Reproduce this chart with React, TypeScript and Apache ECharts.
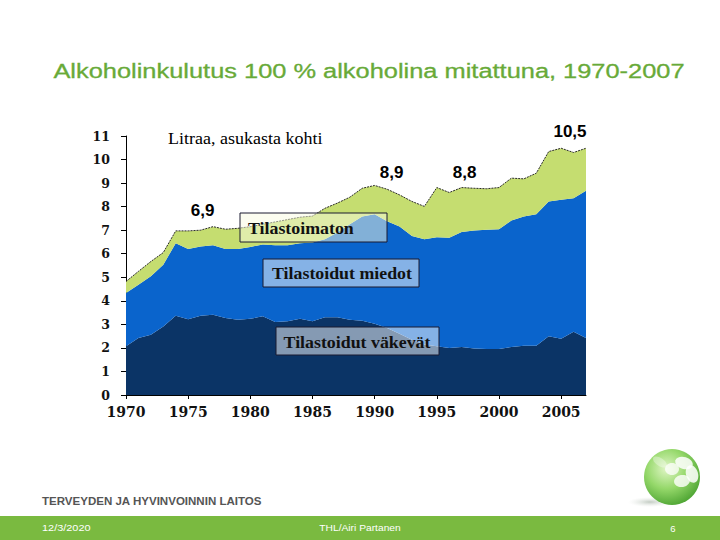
import React, { useEffect, useRef } from "react";
import * as echarts from "echarts";

const years = [
  "1970", "1971", "1972", "1973", "1974", "1975", "1976", "1977", "1978", "1979",
  "1980", "1981", "1982", "1983", "1984", "1985", "1986", "1987", "1988", "1989",
  "1990", "1991", "1992", "1993", "1994", "1995", "1996", "1997", "1998", "1999",
  "2000", "2001", "2002", "2003", "2004", "2005", "2006", "2007",
];

// Tilastoidut väkevät (recorded spirits)
const spirits = [
  2.07, 2.42, 2.56, 2.91, 3.37, 3.22, 3.37, 3.41, 3.27, 3.2,
  3.24, 3.34, 3.1, 3.13, 3.24, 3.13, 3.3, 3.3, 3.2, 3.15,
  3.03, 2.85, 2.6, 2.35, 2.15, 2.07, 2.0, 2.04, 1.98, 1.95,
  1.95, 2.04, 2.09, 2.09, 2.49, 2.39, 2.69, 2.42,
];

// Tilastoidut miedot (recorded mild beverages)
const mild = [
  2.26, 2.26, 2.48, 2.62, 3.08, 2.98, 2.94, 2.95, 2.93, 3.0,
  3.05, 3.05, 3.26, 3.23, 3.21, 3.35, 3.32, 3.6, 4.05, 4.43,
  4.65, 4.53, 4.56, 4.4, 4.47, 4.63, 4.68, 4.88, 5.01, 5.07,
  5.09, 5.37, 5.49, 5.59, 5.73, 5.9, 5.67, 6.25,
];

// Tilastoimaton (unrecorded)
const unrecorded = [
  0.49, 0.57, 0.63, 0.52, 0.52, 0.77, 0.69, 0.79, 0.84, 0.88,
  0.86, 0.86, 0.99, 1.09, 1.1, 1.12, 1.31, 1.25, 1.15, 1.2,
  1.22, 1.36, 1.34, 1.47, 1.39, 2.11, 1.92, 1.89, 1.79, 1.74,
  1.77, 1.8, 1.6, 1.74, 2.12, 2.19, 1.94, 1.81,
];

const annotations = [
  { year: "1976", text: "6,9" },
  { year: "1990", text: "8,9" },
  { year: "1997", text: "8,8" },
  { year: "2007", text: "10,5" },
];

const annotationOffsets: Record<string, number[]> = {
  "1976": [2, -6],
  "1990": [17, 1],
  "1997": [3, -1],
  "2007": [-16, -3],
};

const seriesNames = ["Tilastoidut väkevät", "Tilastoidut miedot", "Tilastoimaton"];
const title = "Alkoholinkulutus 100 % alkoholina mitattuna, 1970-2007";
const unitLabel = "Litraa, asukasta kohti";
const orgName = "TERVEYDEN JA HYVINVOINNIN LAITOS";
const footerDate = "12/3/2020";
const footerAuthor = "THL/Airi Partanen";
const footerPage = "6";

export default function App() {
  const ref = useRef<HTMLDivElement>(null);

  useEffect(() => {
    if (!ref.current) return;
    const chart = echarts.init(ref.current, undefined, { renderer: "svg" });

    const annotationPoints = annotations.map((a) => {
      const i = years.indexOf(a.year);
      const total = spirits[i] + mild[i] + unrecorded[i];
      return {
        value: [a.year, total],
        label: {
          show: true,
          position: "top",
          distance: 5,
          formatter: a.text,
          offset: annotationOffsets[a.year],
          color: "#000",
          opacity: 1,
          fontFamily: "Liberation Sans",
          fontWeight: "bold",
          fontSize: 17,
        },
      };
    });

    const boxStyle = {
      stroke: "#1a1a30",
      lineWidth: 1,
    };
    const boxFont = 'bold 17px "Liberation Serif"';

    chart.setOption({
      animation: false,
      backgroundColor: "#ffffff",
      grid: { left: 126, top: 136, width: 460, height: 259 },
      xAxis: {
        type: "category",
        data: years,
        boundaryGap: false,
        axisLine: { show: true, lineStyle: { color: "#000", width: 1 } },
        axisTick: { show: true, interval: 4, length: 4, lineStyle: { color: "#000" } },
        axisLabel: {
          interval: 4,
          color: "#111",
          fontFamily: "DejaVu Serif",
          fontWeight: "bold",
          fontSize: 14,
          margin: 10,
        },
        splitLine: { show: false },
      },
      yAxis: {
        type: "value",
        min: 0,
        max: 11,
        interval: 1,
        axisLine: { show: true, lineStyle: { color: "#000", width: 1 } },
        axisTick: { show: true, length: 5, lineStyle: { color: "#000" } },
        axisLabel: {
          color: "#111",
          fontFamily: "DejaVu Serif",
          fontWeight: "bold",
          fontSize: 12.5,
          margin: 16,
        },
        splitLine: { show: false },
      },
      series: [
        {
          name: seriesNames[0],
          type: "line",
          stack: "total",
          data: spirits,
          symbol: "none",
          lineStyle: { width: 0 },
          areaStyle: { color: "#0b3466", opacity: 1 },
          z: 2,
        },
        {
          name: seriesNames[1],
          type: "line",
          stack: "total",
          data: mild,
          symbol: "none",
          lineStyle: { width: 0 },
          areaStyle: { color: "#0a64cc", opacity: 1 },
          z: 2,
        },
        {
          name: seriesNames[2],
          type: "line",
          stack: "total",
          data: unrecorded,
          symbol: "none",
          lineStyle: { width: 1, color: "#2a2a2a", type: [2, 1] },
          areaStyle: { color: "#c5dd70", opacity: 1 },
          z: 3,
        },
        {
          name: "annotations",
          type: "scatter",
          data: annotationPoints,
          symbolSize: 1,
          itemStyle: { color: "rgba(255,255,255,0)" },
          silent: true,
          z: 5,
        },
      ],
      graphic: [
        {
          type: "text",
          x: 369,
          y: 71,
          z: 100,
          scaleX: 1.27,
          style: {
            text: title,
            font: 'normal 20px "Liberation Sans"',
            fill: "#68aa38",
            stroke: "#68aa38",
            lineWidth: 0.3,
            textAlign: "center",
            textVerticalAlign: "middle",
          },
        },
        {
          type: "text",
          x: 168,
          y: 138,
          z: 100,
          scaleX: 1.06,
          style: {
            text: unitLabel,
            font: 'normal 17px "Liberation Serif"',
            fill: "#000",
            textAlign: "left",
            textVerticalAlign: "middle",
          },
        },
        {
          type: "rect",
          z: 100,
          shape: { x: 240, y: 213, width: 147, height: 29 },
          style: { ...boxStyle, fill: "rgba(250,252,225,0.5)" },
        },
        {
          type: "text",
          x: 248,
          y: 228,
          z: 101,
          scaleX: 1.05,
          style: {
            text: seriesNames[2],
            font: boxFont,
            fill: "#111",
            textAlign: "left",
            textVerticalAlign: "middle",
          },
        },
        {
          type: "rect",
          z: 100,
          shape: { x: 263, y: 259, width: 156, height: 28 },
          style: { ...boxStyle, fill: "rgba(255,255,255,0.5)" },
        },
        {
          type: "text",
          x: 342,
          y: 273,
          z: 101,
          scaleX: 1.05,
          style: {
            text: seriesNames[1],
            font: boxFont,
            fill: "#111",
            textAlign: "center",
            textVerticalAlign: "middle",
          },
        },
        {
          type: "rect",
          z: 100,
          shape: { x: 276, y: 327, width: 163, height: 28 },
          style: { ...boxStyle, fill: "rgba(255,255,255,0.5)" },
        },
        {
          type: "text",
          x: 357,
          y: 342,
          z: 101,
          scaleX: 1.05,
          style: {
            text: seriesNames[0],
            font: boxFont,
            fill: "#111",
            textAlign: "center",
            textVerticalAlign: "middle",
          },
        },
        {
          type: "text",
          x: 42,
          y: 501,
          z: 100,
          scaleX: 1.1,
          style: {
            text: orgName,
            font: 'bold 10.5px "Liberation Sans"',
            fill: "#555",
            textAlign: "left",
            textVerticalAlign: "middle",
          },
        },
        {
          type: "rect",
          z: 100,
          shape: { x: 0, y: 516, width: 720, height: 24 },
          style: { fill: "#7aba40" },
        },
        {
          type: "text",
          x: 42,
          y: 528,
          z: 101,
          scaleX: 1.15,
          style: {
            text: footerDate,
            font: 'normal 9.5px "Liberation Sans"',
            fill: "#fff",
            textAlign: "left",
            textVerticalAlign: "middle",
          },
        },
        {
          type: "text",
          x: 360,
          y: 528,
          z: 101,
          scaleX: 1.08,
          style: {
            text: footerAuthor,
            font: 'normal 9.5px "Liberation Sans"',
            fill: "#fff",
            textAlign: "center",
            textVerticalAlign: "middle",
          },
        },
        {
          type: "text",
          x: 673,
          y: 528,
          z: 101,
          style: {
            text: footerPage,
            font: 'normal 9.5px "Liberation Sans"',
            fill: "#fff",
            textAlign: "center",
            textVerticalAlign: "middle",
          },
        },
        {
          type: "ellipse",
          z: 100,
          shape: { cx: 650, cy: 502, rx: 22, ry: 5 },
          style: {
            fill: new echarts.graphic.RadialGradient(0.5, 0.5, 0.5, [
              { offset: 0, color: "rgba(120,140,120,0.45)" },
              { offset: 1, color: "rgba(200,210,200,0)" },
            ]),
          },
        },
        {
          type: "circle",
          z: 101,
          shape: { cx: 672, cy: 477, r: 28 },
          style: {
            fill: new echarts.graphic.RadialGradient(0.4, 0.35, 0.8, [
              { offset: 0, color: "#e0f6c6" },
              { offset: 0.45, color: "#95d86a" },
              { offset: 1, color: "#34921f" },
            ]),
          },
        },
        {
          type: "ellipse",
          z: 102,
          x: 684,
          y: 463,
          shape: { cx: 0, cy: 0, rx: 9, ry: 6 },
          rotation: -0.3,
          style: { fill: "rgba(255,255,255,0.85)" },
        },
        {
          type: "ellipse",
          z: 102,
          x: 692,
          y: 474,
          shape: { cx: 0, cy: 0, rx: 6, ry: 9 },
          rotation: 0.3,
          style: { fill: "rgba(255,255,255,0.85)" },
        },
        {
          type: "ellipse",
          z: 102,
          x: 682,
          y: 481,
          shape: { cx: 0, cy: 0, rx: 8, ry: 6 },
          rotation: 0.2,
          style: { fill: "rgba(255,255,255,0.8)" },
        },
        {
          type: "ellipse",
          z: 102,
          x: 672,
          y: 469,
          shape: { cx: 0, cy: 0, rx: 7, ry: 6 },
          rotation: 0,
          style: { fill: "rgba(255,255,255,0.75)" },
        },
        {
          type: "ellipse",
          z: 102,
          x: 660,
          y: 462,
          shape: { cx: 0, cy: 0, rx: 8, ry: 4 },
          rotation: -0.6,
          style: { fill: "rgba(255,255,255,0.35)" },
        },
      ],
    });

    return () => chart.dispose();
  }, []);

  return (
    <div
      ref={ref}
      style={{ position: "absolute", left: 0, top: 0, width: 720, height: 540 }}
    />
  );
}
